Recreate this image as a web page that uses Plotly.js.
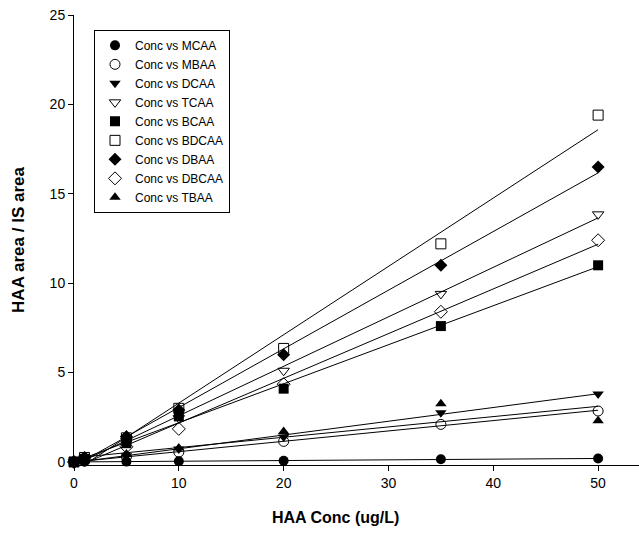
<!DOCTYPE html>
<html>
<head>
<meta charset="utf-8">
<script src="https://cdn.plot.ly/plotly-3.0.1.min.js"></script>
<style>html,body{margin:0;padding:0;background:#fff;}#chart{width:639px;height:533px;}</style>
</head>
<body>
<div id="chart"></div>
<script>
// Concentrations (ug/L)
const conc = [0, 1, 5, 10, 20, 35, 50];

// HAA area / IS area for each compound
const MCAA  = [0, 0.01, 0.02, 0.04, 0.07, 0.15, 0.19];
const MBAA  = [0, 0.06, 0.28, 0.55, 1.15, 2.10, 2.85];
const DCAA  = [0, 0.07, 0.35, 0.72, 1.40, 2.75, 3.80];
const TCAA  = [0, 0.20, 1.20, 2.45, 5.10, 9.40, 13.85];
const BCAA  = [0, 0.18, 1.05, 2.55, 4.10, 7.60, 11.00];
const BDCAA = [0, 0.25, 1.35, 3.00, 6.35, 12.20, 19.40];
const DBAA  = [0, 0.25, 1.42, 2.90, 6.00, 11.00, 16.50];
const DBCAA = [0, 0.15, 0.85, 1.85, 4.35, 8.40, 12.40];
const TBAA  = [0, 0.10, 0.45, 0.78, 1.70, 3.25, 2.30];

const seriesNames = ["Conc vs MCAA","Conc vs MBAA","Conc vs DCAA","Conc vs TCAA","Conc vs BCAA","Conc vs BDCAA","Conc vs DBAA","Conc vs DBCAA","Conc vs TBAA"];
const seriesData = [MCAA, MBAA, DCAA, TCAA, BCAA, BDCAA, DBAA, DBCAA, TBAA];
const symbols = ["circle","circle-open","triangle-down","triangle-down-open","square","square-open","diamond","diamond-open","triangle-up"];

function linfit(x, y) {
  const n = x.length;
  let sx = 0, sy = 0, sxx = 0, sxy = 0;
  for (let i = 0; i < n; i++) { sx += x[i]; sy += y[i]; sxx += x[i]*x[i]; sxy += x[i]*y[i]; }
  const b = (n*sxy - sx*sy) / (n*sxx - sx*sx);
  const a = (sy - b*sx) / n;
  return {a, b};
}

const traces = [];
// regression lines
seriesData.forEach((ys, i) => {
  const f = linfit(conc, ys);
  const xs = [Math.min(...conc), Math.max(...conc)];
  traces.push({
    x: xs, y: xs.map(v => f.a + f.b*v),
    mode: "lines", type: "scatter", showlegend: false, hoverinfo: "skip",
    line: {color: "#000", width: 1}
  });
});
// data markers
seriesData.forEach((ys, i) => {
  const open = symbols[i].indexOf("open") >= 0;
  traces.push({
    x: conc, y: ys, name: seriesNames[i],
    mode: "markers", type: "scatter", cliponaxis: false,
    marker: {symbol: symbols[i], size: 10, color: "#000",
             line: {color: "#000", width: open ? 1 : 0}}
  });
});

const font = "Arial, 'Liberation Sans', sans-serif";
const layout = {
  width: 639, height: 533,
  margin: {l: 74, r: 0, t: 15, b: 68, pad: 0},
  paper_bgcolor: "#fff", plot_bgcolor: "#fff",
  font: {family: font, color: "#000", size: 14},
  showlegend: true,
  legend: {x: 0.0354, y: 0.967, xanchor: "left", yanchor: "top",
           bordercolor: "#000", borderwidth: 1, bgcolor: "#fff",
           font: {family: font, size: 12, color: "#000"}},
  xaxis: {range: [0, 53.9], tickmode: "array", tickvals: [0,10,20,30,40,50],
          ticks: "outside", ticklen: 5, tickwidth: 1, tickcolor: "#000",
          showline: true, linecolor: "#000", linewidth: 1,
          showgrid: false, zeroline: false, tickfont: {size: 14}},
  yaxis: {range: [-0.17, 25], tickmode: "array", tickvals: [0,5,10,15,20,25],
          ticks: "outside", ticklen: 5, tickwidth: 1, tickcolor: "#000",
          showline: true, linecolor: "#000", linewidth: 1,
          showgrid: false, zeroline: false, tickfont: {size: 14},
          title: {text: "<b>HAA area / IS area</b>", font: {size: 17}, standoff: 20}},
  annotations: [{text: "<b>HAA Conc (ug/L)</b>", xref: "paper", yref: "paper",
                 x: 0.462, y: -0.1156, xanchor: "center", yanchor: "middle",
                 showarrow: false, font: {size: 16}}]
};

Plotly.newPlot("chart", traces, layout, {displayModeBar: false, staticPlot: true});
</script>
</body>
</html>
